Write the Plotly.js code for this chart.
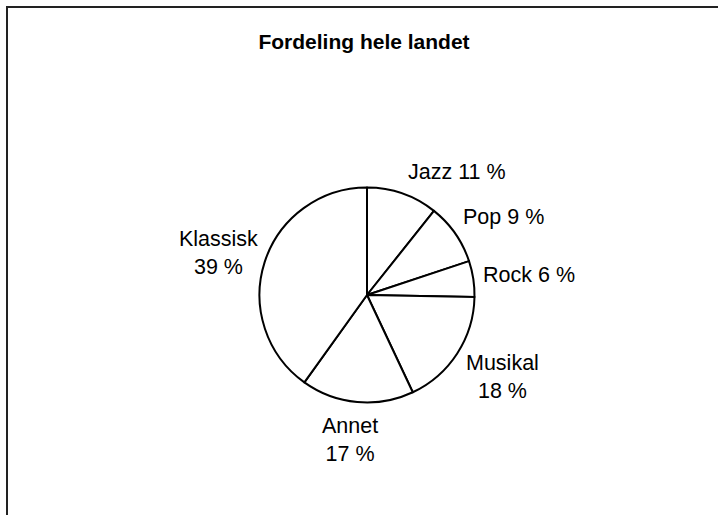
<!DOCTYPE html>
<html>
<head>
<meta charset="utf-8">
<script src="https://cdn.plot.ly/plotly-3.0.1.min.js"></script>
<style>
  html, body { margin: 0; padding: 0; background: #fff; }
  #chart { width: 718px; height: 515px; }
</style>
</head>
<body>
<div id="chart"></div>
<script>
// Data
const categories = ["Jazz", "Pop", "Rock", "Musikal", "Annet", "Klassisk"];
const sliceValues = [10.7, 9.2, 5.4, 17.7, 16.9, 40.1];
// percentages as printed in the labels
const labelPercents = [11, 9, 6, 18, 17, 39];
const chartTitle = "Fordeling hele landet";

// Label layout (pixel centres) and separators
const labelSep = [" ", " ", " ", "<br>", "<br>", "<br>"];
const labelPx = [[457, 172], [503, 217], [529, 275], [502, 377], [350, 440], [218, 253]];

const W = 718, H = 515;
const px = x => x / W;
const py = y => 1 - y / H;

const fontFam = "Liberation Sans, Arial, sans-serif";

const trace = {
  type: "pie",
  labels: categories,
  values: sliceValues,
  sort: false,
  direction: "clockwise",
  rotation: 0,
  textinfo: "none",
  hoverinfo: "label",
  marker: { colors: categories.map(() => "#ffffff"), line: { color: "#000000", width: 2 } },
  domain: { x: [px(259.5), px(474.5)], y: [py(402.5), py(187.5)] },
  showlegend: false
};

const annotations = categories.map((c, i) => ({
  xref: "paper", yref: "paper",
  x: px(labelPx[i][0]), y: py(labelPx[i][1]),
  xanchor: "center", yanchor: "middle",
  text: c + labelSep[i] + labelPercents[i] + " %",
  showarrow: false,
  align: "center",
  font: { family: fontFam, size: 21.5, color: "#000" }
}));

const layout = {
  width: W, height: H,
  margin: { l: 0, r: 0, t: 0, b: 0 },
  paper_bgcolor: "#fff",
  plot_bgcolor: "#fff",
  title: {
    text: chartTitle,
    x: px(364), y: py(42),
    xref: "paper", yref: "paper",
    xanchor: "center", yanchor: "middle",
    font: { family: fontFam, size: 21, color: "#000", weight: "bold" }
  },
  annotations: annotations,
  shapes: [
    { type: "line", xref: "paper", yref: "paper", x0: px(7), x1: px(7), y0: py(7), y1: 0, line: { color: "#222", width: 2 } },
    { type: "line", xref: "paper", yref: "paper", x0: px(6), x1: 1, y0: py(7), y1: py(7), line: { color: "#222", width: 2 } }
  ]
};

Plotly.newPlot("chart", [trace], layout, { displayModeBar: false, staticPlot: true });
</script>
</body>
</html>
